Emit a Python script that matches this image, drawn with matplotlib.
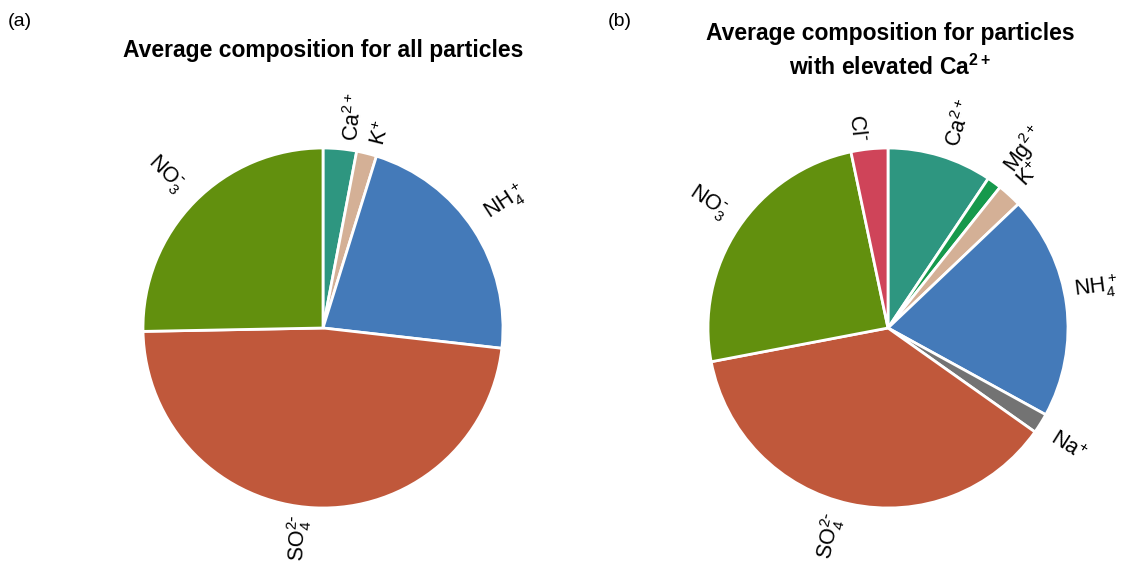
import numpy as np
import matplotlib
matplotlib.use('Agg')
import matplotlib.pyplot as plt
from matplotlib import rcParams

rcParams.update({'font.family': ['Liberation Sans', 'DejaVu Sans'], 'mathtext.default': 'regular'})

# (a) all particles, clockwise from top
labels_a = ['Ca$^{2+}$', 'K$^{+}$', 'NH$_4^+$', 'SO$_4^{2\\text{-}}$', 'NO$_3^{\\text{-}}$']
values_a = [3.0, 1.8, 22.0, 47.9, 25.3]
colors_a = ['#2e9680', '#d4b096', '#447ab9', '#c0583b', '#62900e']

# (b) particles with elevated Ca2+
labels_b = ['Ca$^{2+}$', 'Mg$^{2+}$', 'K$^{+}$', 'NH$_4^+$', 'Na$^{+}$', 'SO$_4^{2\\text{-}}$', 'NO$_3^{\\text{-}}$', 'Cl$^{\\text{-}}$']
values_b = [9.4, 1.3, 2.2, 20.1, 1.8, 37.2, 24.7, 3.3]
colors_b = ['#2e9680', '#16994c', '#d4b096', '#447ab9', '#737373', '#c0583b', '#62900e', '#cf4459']

W, H = 1121, 563
fig = plt.figure(figsize=(W/100., H/100.), dpi=100)

def make_axes(cx, cy, r=180.):
	# cx, cy in pixels from top-left; radius r pixels maps to 1 data unit
	half = 1.5*r
	ax = fig.add_axes([(cx-half)/W, (H-cy-half)/H, 2*half/W, 2*half/H])
	return ax

def draw(ax, values, labels, colors):
	wedges, texts = ax.pie(values, labels=labels, colors=colors, startangle=90, counterclock=False,
		labeldistance=1.035, rotatelabels=True, radius=1.0, frame=True,
		wedgeprops={'edgecolor': 'white', 'linewidth': 2},
		textprops={'fontsize': 15.5})
	ax.set_xlim(-1.5, 1.5)
	ax.set_ylim(-1.5, 1.5)
	ax.axis('off')

ax1 = make_axes(323, 328)
draw(ax1, values_a, labels_a, colors_a)
ax2 = make_axes(888, 328)
draw(ax2, values_b, labels_b, colors_b)

fig.text(323/W, 1-50./H, 'Average composition for all particles', ha='center', va='center',
	fontsize=16.5, fontweight='bold')
fig.text(890/W, 1-51./H, 'Average composition for particles\nwith elevated Ca$^{2+}$', ha='center', va='center',
	fontsize=16.5, fontweight='bold', linespacing=1.5)
fig.text(8./W, 1-22./H, '(a)', ha='left', va='center', fontsize=14)
fig.text(608./W, 1-22./H, '(b)', ha='left', va='center', fontsize=14)

fig.savefig('out.png', dpi=100)
